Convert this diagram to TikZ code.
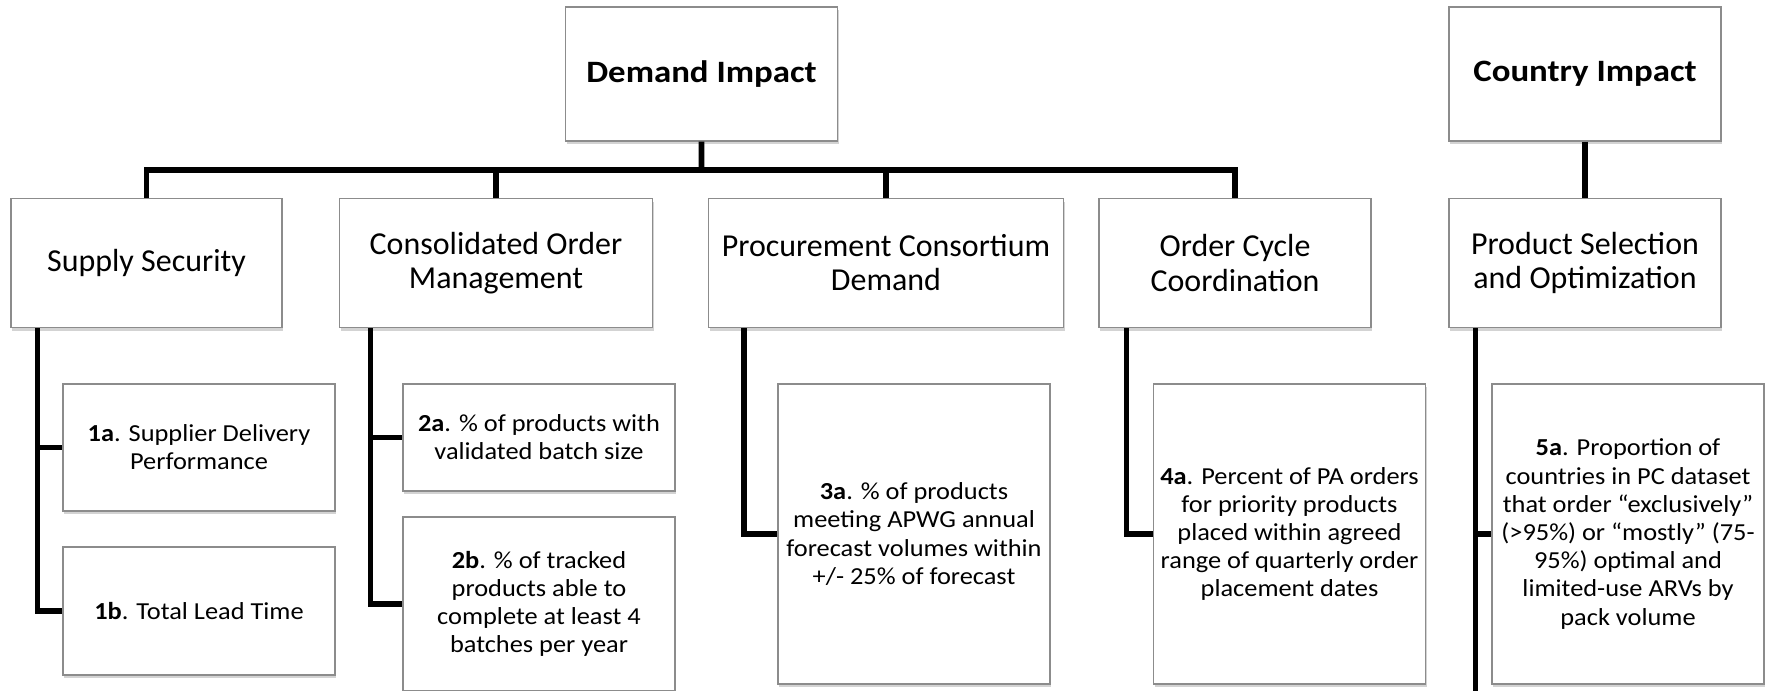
\documentclass[tikz,border=0pt]{standalone}
\usepackage{fontspec}
\setmainfont{Carlito}
\newfontfamily\headfont{Carlito}[FakeStretch=1.12]
\newfontfamily\metricfont{Carlito}[FakeStretch=1.08]
\usetikzlibrary{calc,shadows}
\tikzset{
  box/.style={draw=black!45, line width=0.8pt, fill=white, align=center, inner sep=0pt,
    minimum width=5.44cm, drop shadow={shadow xshift=0.6pt, shadow yshift=-1.8pt, opacity=0.35}},
  head/.style={box, minimum height=2.68cm, font=\headfont\fontsize{17.7}{20}\selectfont\bfseries},
  area/.style={box, minimum height=2.58cm, font=\fontsize{18.2}{19.4}\selectfont},
  metric/.style={box, font=\metricfont\fontsize{13.9}{16.05}\selectfont},
  link/.style={line width=3.2pt},
}
\begin{document}
\begin{tikzpicture}[x=0.02cm, y=-0.02cm]
	\useasboundingbox (0,0) rectangle (1770,690);
	\node[head] (dem) at (701.5,74) {Demand Impact};
	\node[head] (cty) at (1585,74) {Country Impact};
	\node[area, minimum width=5.42cm] (sup) at (146.5,263) {Supply Security};
	\node[area, minimum width=6.26cm] (con) at (496,263) {Consolidated Order\\Management};
	\node[area, minimum width=7.1cm] (pro) at (886,263) {Procurement Consortium\\Demand};
	\node[area] (ord) at (1235,263) {Order Cycle\\Coordination};
	\node[area] (prd) at (1585,263) {Product Selection\\and Optimization};
	\node[metric, minimum height=2.54cm] (m1a) at (199,447.5) {\textbf{1a}. Supplier Delivery\\Performance};
	\node[metric, minimum height=2.56cm] (m1b) at (199,611) {\textbf{1b}. Total Lead Time};
	\node[metric, minimum height=2.14cm] (m2a) at (539,437.5) {\textbf{2a}. \% of products with\\validated batch size};
	\node[metric, minimum height=3.48cm] (m2b) at (539,604) {\textbf{2b}. \% of tracked\\products able to\\complete at least 4\\batches per year};
	\node[metric, minimum height=6cm] (m3a) at (914,534) {\textbf{3a}. \% of products\\meeting APWG annual\\forecast volumes within\\+/- 25\% of forecast};
	\node[metric, minimum height=6cm] (m4a) at (1289.5,534) {\textbf{4a}. Percent of PA orders\\for priority products\\placed within agreed\\range of quarterly order\\placement dates};
	\node[metric, minimum height=6cm] (m5a) at (1628,534) {\textbf{5a}. Proportion of\\countries in PC dataset\\that order “exclusively”\\(>95\%) or “mostly” (75-\\95\%) optimal and\\limited-use ARVs by\\pack volume};
	\coordinate (bus) at ($(dem.south)!.5!(dem.south |- sup.north)$);
	\draw [link] (dem.south) -- (bus);
	\draw [link] (sup.north) |- (bus) -| (ord.north);
	\foreach \n in {con,pro}
		\draw [link] (\n.north) -- (\n.north |- bus);
	\draw [link] (cty.south) -- (prd.north);
	\draw [link] ([xshift=0.54cm]sup.south west) |- (m1a.west);
	\draw [link] ([xshift=0.54cm]sup.south west) |- (m1b.west);
	\draw [link] ([xshift=0.63cm]con.south west) |- (m2a.west);
	\draw [link] ([xshift=0.63cm]con.south west) |- (m2b.west);
	\draw [link] ([xshift=0.72cm]pro.south west) |- (m3a.west);
	\draw [link] ([xshift=0.56cm]ord.south west) |- (m4a.west);
	\coordinate (spine) at ([xshift=0.54cm]prd.south west);
	\coordinate (tail) at (spine |- 0,700);
	\draw [link] (spine) -- (tail);
	\draw [link] (spine) |- (m5a.west);
\end{tikzpicture}
\end{document}
